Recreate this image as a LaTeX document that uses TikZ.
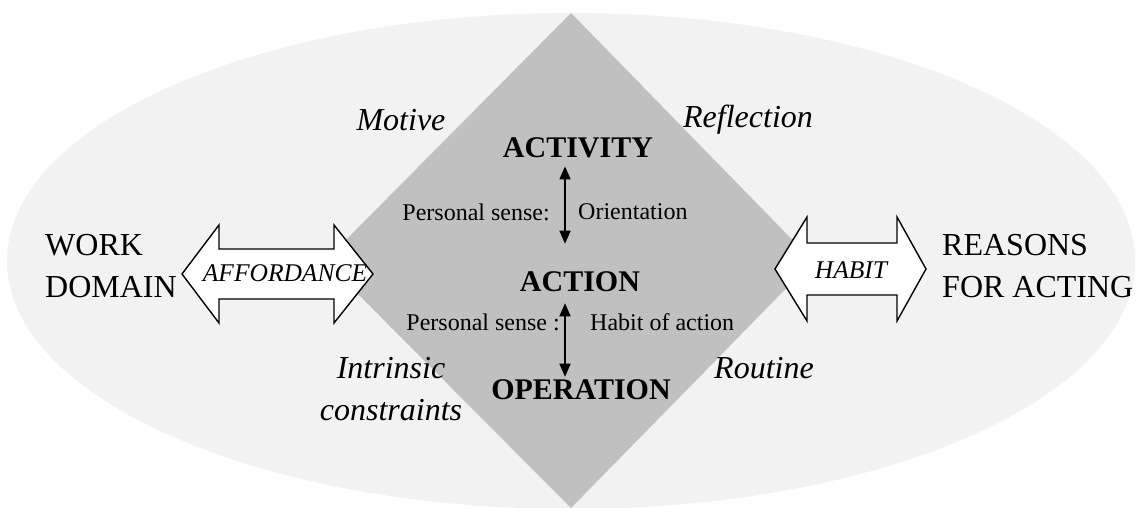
\documentclass[tikz,border=0pt]{standalone}
\usepackage{fontspec}
\setmainfont{Liberation Serif}
\usetikzlibrary{arrows.meta}
\definecolor{fieldgray}{HTML}{F2F2F2}
\definecolor{coregray}{HTML}{C0C0C0}
\begin{document}
\begin{tikzpicture}[x=1pt,y=-1pt,
  level/.style={inner sep=0pt,font=\fontsize{30}{36}\selectfont\bfseries},
  facet/.style={inner sep=0pt,font=\fontsize{32}{42}\selectfont\itshape,align=center},
  sense/.style={inner sep=0pt,font=\fontsize{24}{28}\selectfont},
  pole/.style={inner sep=0pt,font=\fontsize{32}{42}\selectfont,align=left},
  bridge/.style={inner sep=0pt,font=\fontsize{25.5}{30}\selectfont\itshape},
  blockarrow/.style={draw=black,line width=1.4pt,fill=white,line join=miter},
  linkarrow/.style={line width=1.6pt,{Triangle[length=13pt,width=11pt]}-{Triangle[length=13pt,width=11pt]}}]
\useasboundingbox (0,0) rectangle (1144,508);
\fill[white] (0,0) rectangle (1144,508);
% outer field
\fill[fieldgray] (571,261) ellipse [x radius=564, y radius=248];
% activity diamond
\fill[coregray] (571,13) -- (813,261) -- (571,508) -- (325,261) -- cycle;
% block arrows
\draw[blockarrow] (182,274) -- (219,225) -- (219,249) -- (334,249) -- (334,225)
  -- (373,274) -- (334,323) -- (334,299) -- (219,299) -- (219,323) -- cycle;
\draw[blockarrow] (775,269) -- (807,217) -- (807,243) -- (897,243) -- (897,217)
  -- (926,269) -- (897,321) -- (897,295) -- (807,295) -- (807,321) -- cycle;
\node[bridge] (afford) at (285,273) {AFFORDANCE};
\node[bridge] (habit) at (851,270) {HABIT};
% poles
\node[pole,anchor=west] (work) at (45,266) {WORK\\DOMAIN};
\node[pole,anchor=west] (reasons) at (942,266) {REASONS\\FOR ACTING};
% levels
\node[level] (activity) at (578,148) {ACTIVITY};
\node[level] (action) at (580,282) {ACTION};
\node[level] (operation) at (581,390) {OPERATION};
\coordinate (axis) at (565,0);
\draw[linkarrow,shorten <=8pt,shorten >=28pt] (activity.south -| axis) -- (action.north -| axis);
\draw[linkarrow,shorten <=11pt,shorten >=3pt] (action.south -| axis) -- (operation.north -| axis);
\node[sense,anchor=east] (ps1) at (550,212) {Personal sense:};
\node[sense,anchor=west] (orient) at (578,212) {Orientation};
\node[sense,anchor=east] (ps2) at (560,322) {Personal sense :};
\node[sense,anchor=west] (habitact) at (590,322) {Habit of action};
% facets
\node[facet] (motive) at (401,120) {Motive};
\node[facet] (reflection) at (748,120) {Reflection};
\node[facet] (intrinsic) at (391,389) {Intrinsic\\constraints};
\node[facet] (routine) at (764,368) {Routine};
\end{tikzpicture}
\end{document}
